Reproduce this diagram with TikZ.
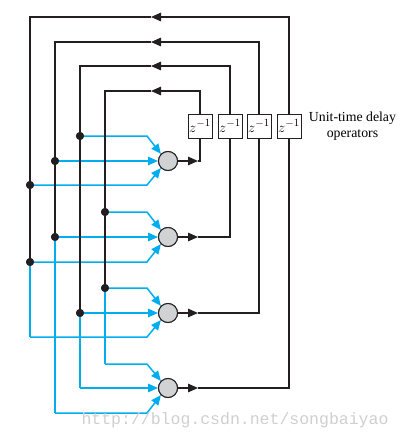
\documentclass[tikz,border=0pt]{standalone}
\usepackage{fontspec}
\setmainfont{Liberation Serif}
\setmonofont{Liberation Mono}
\usetikzlibrary{positioning,arrows.meta,calc}
\definecolor{cyanline}{HTML}{00AEEF}
\definecolor{darkline}{HTML}{231F20}
\definecolor{cellgray}{HTML}{D1D2D4}
\definecolor{markgray}{HTML}{CFCFCF}

\begin{document}
\begin{tikzpicture}[x=1pt,y=-1pt,
        neuron/.style={circle, draw=darkline, fill=cellgray, line width=1pt, minimum size=19pt, inner sep=0pt},
        delaybox/.style={draw=darkline, fill=white, line width=0.9pt, minimum width=24pt, minimum height=24pt, inner sep=0pt, font=\fontsize{15}{17}\selectfont},
        fb/.style={draw=darkline, line width=1.4pt},
        feed/.style={draw=cyanline, line width=1.5pt},
        tip/.style={-{Triangle[length=10pt,width=8.5pt]}},
        tap/.style={circle, fill=darkline, inner sep=0pt, minimum size=8pt}]
        \useasboundingbox (0,0) rectangle (400,440);

        % neurons and unit-time delays
        \foreach \i/\y in {1/161,2/237,3/313,4/388}
            \node[neuron] (n\i) at (168,\y) {};
        \foreach \i/\x in {1/200,2/230,3/259,4/289}
            \node[delaybox] (z\i) at (\x,126) {$z^{-1}$};
        \node[right=4pt of z4, align=center, font=\fontsize{13.8}{15.5}\selectfont] (lbl) {Unit-time delay\\operators};

        % tap points (dots) and the free corners of the blue lines
        \node[tap] (s11) at (80,136) {};
        \node[tap] (s12) at (55,161) {};
        \node[tap] (s13) at (30,185) {};
        \node[tap] (s21) at (105,212) {};
        \node[tap] (s22) at (55,237) {};
        \node[tap] (s23) at (30,262) {};
        \node[tap] (s31) at (105,288) {};
        \node[tap] (s32) at (80,313) {};
        \coordinate (s33) at (30,337);
        \coordinate (s41) at (105,364);
        \coordinate (s42) at (80,388);
        \coordinate (s43) at (55,413);
        \coordinate (kx) at (147,0);

        % inputs to the neurons
        \draw[feed] (s31.center) -- (s41);
        \draw[feed] (s32.center) -- (s42);
        \draw[feed] (s22.center) -- (s43);
        \draw[feed] (s23.center) -- (s33);
        \foreach \i in {1,2,3,4} {
            \draw[feed,tip] (s\i1.center) -- (s\i1 -| kx) -- (n\i.north west);
            \draw[feed,tip] (s\i2.center) -- (n\i.west);
            \draw[feed,tip] (s\i3.center) -- (s\i3 -| kx) -- (n\i.south west);
        }

        % feedback through the delays
        \foreach \i/\y/\ty/\e in {1/161/91/s31, 2/237/66/s32, 3/313/42/s22, 4/388/17/s23} {
            \coordinate (o\i) at (198,\y);
            \coordinate (h\i) at (151,\ty);
            \draw[fb,tip] (n\i) -- (o\i);
            \draw[fb] (o\i) -| (z\i.south);
            \draw[fb,tip] (z\i.north) |- (h\i);
            \draw[fb] (h\i) -| (\e.center);
        }

        % redraw dots, circles and boxes on top
        \foreach \s in {s11,s12,s13,s21,s22,s23,s31,s32}
            \fill[darkline] (\s) circle (4pt);
        \foreach \i in {1,2,3,4}
            \node[neuron] at (n\i) {};
        \foreach \i in {1,2,3,4}
            \node[delaybox] at (z\i) {$z^{-1}$};

        \node[anchor=west, text=markgray, font=\ttfamily\fontsize{16.5}{18}\selectfont] (wm) at (78,420) {http://blog.csdn.net/songbaiyao};
    \end{tikzpicture}
\end{document}
